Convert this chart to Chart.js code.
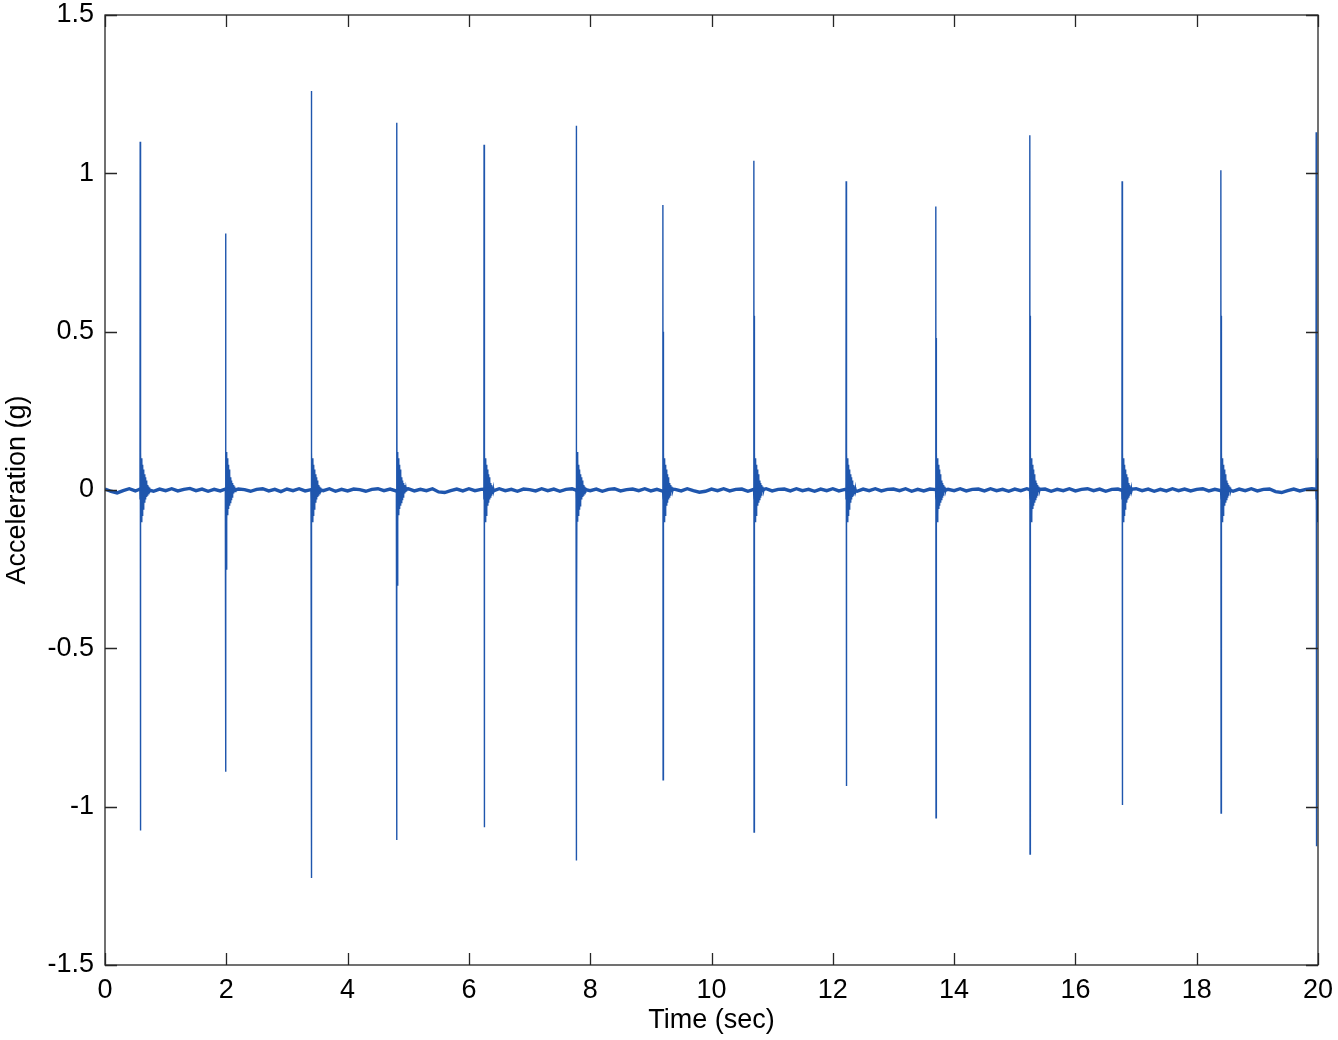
<!DOCTYPE html>
<html>
<head>
<meta charset="utf-8">
<title>Acceleration</title>
<script src="https://cdn.jsdelivr.net/npm/chart.js@4/dist/chart.umd.min.js"></script>
<style>
  html, body { margin: 0; padding: 0; background: #fff; }
  #wrap { width: 1338px; height: 1040px; }
</style>
</head>
<body>
<div id="wrap"><canvas id="accChart" width="1338" height="1040"></canvas></div>
<script>
// tick labels
const xTickLabels = ['0', '2', '4', '6', '8', '10', '12', '14', '16', '18', '20'];
const yTickLabels = ['-1.5', '-1', '-0.5', '0', '0.5', '1', '1.5'];

// impacts (sec, g)
const spikeTimes = [0.58, 1.99, 3.40, 4.81, 6.25, 7.77, 9.20, 10.70, 12.22, 13.70, 15.25, 16.77, 18.40, 19.97];
const spikePeaks = [1.10, 0.81, 1.26, 1.16, 1.09, 1.15, 0.90, 1.04, 0.975, 0.895, 1.12, 0.975, 1.01, 1.13];
const spikeTroughs = [-1.075, -0.89, -1.225, -1.105, -1.065, -1.17, -0.915, -1.08, -0.935, -1.035, -1.15, -0.995, -1.02, -1.125];
const secondPeaks = [0.55, 0.12, 0.45, 0.60, 0.55, 0.60, 0.50, 0.55, 0.50, 0.48, 0.55, 0.75, 0.55, 0.12];
const secondTroughs = [-0.35, -0.25, -0.36, -0.30, -0.30, -0.50, -0.28, -0.30, -0.30, -0.30, -0.30, -0.60, -0.33, -0.30];

// ringing after each impact (g), one sample every 7 ms
const ringing = [0.12, -0.10, 0.10, -0.08, 0.08, -0.06, 0.065, -0.05, 0.05, -0.04,
                 0.04, -0.03, 0.03, -0.022, 0.022, -0.016, 0.016, -0.011, 0.011, -0.007,
                 0.008, -0.005];

// baseline between impacts (g), one sample every 0.1 s
const baseline = [
  0.003, -0.004, -0.009, -0.002, 0.004, -0.003, 0.005, 0.001, -0.004, 0.003,
  -0.002, 0.004, -0.003, 0.002, 0.005, -0.002, 0.003, -0.004, 0.002, -0.003,
  0.004, -0.002, 0.003, 0.001, -0.004, 0.002, 0.004, -0.003, 0.002, -0.005,
  0.003, -0.002, 0.004, -0.003, 0.001, 0.003, -0.002, 0.004, -0.004, 0.002,
  -0.003, 0.003, 0.001, -0.004, 0.002, 0.004, -0.002, 0.003, -0.003, 0.002,
  0.004, -0.003, 0.002, -0.002, 0.004, -0.006, -0.008, -0.002, 0.003, -0.003,
  0.004, -0.002, 0.002, 0.003, -0.003, 0.004, -0.002, 0.002, -0.004, 0.003,
  0.001, -0.003, 0.004, -0.002, 0.003, -0.004, 0.002, 0.004, -0.003, 0.002,
  -0.002, 0.003, -0.004, 0.002, 0.004, -0.003, 0.001, 0.003, -0.002, 0.004,
  -0.003, 0.002, -0.004, 0.003, 0.002, -0.003, 0.004, -0.002, -0.007, -0.004,
  0.003, -0.002, 0.004, -0.003, 0.002, 0.003, -0.004, 0.002, -0.002, 0.004,
  -0.003, 0.002, 0.003, -0.003, 0.004, -0.002, 0.002, -0.004, 0.003, -0.002,
  0.004, -0.003, 0.002, 0.001, -0.004, 0.003, -0.002, 0.004, -0.003, 0.002,
  0.003, -0.002, 0.004, -0.004, 0.002, -0.003, 0.003, 0.001, -0.004, 0.002,
  -0.002, 0.004, -0.003, 0.002, 0.003, -0.003, 0.004, -0.002, 0.002, -0.004,
  0.003, -0.002, 0.004, -0.003, 0.002, 0.003, -0.004, 0.002, -0.002, 0.004,
  -0.003, 0.002, 0.004, -0.002, 0.003, -0.004, 0.002, 0.003, -0.003, 0.002,
  0.004, -0.002, 0.003, -0.004, 0.002, -0.003, 0.004, -0.002, 0.003, -0.003,
  0.002, 0.004, -0.003, 0.002, -0.002, 0.003, -0.004, 0.003, -0.002, 0.004,
  -0.003, 0.002, 0.003, -0.005, -0.008, -0.002, 0.003, -0.003, 0.002, 0.004,
  0.002
];

const lineColor = '#1f56ad';
const fontFamily = '"Liberation Sans", Arial, sans-serif';
const fontSize = 27;

function buildBaseline() {
    return baseline.map((v, i) => ({ x: i * 0.1, y: v }));
}

function buildSpikes() {
    const pts = [];
    spikeTimes.forEach((t, i) => {
        pts.push({ x: t - 0.006, y: 0 });
        pts.push({ x: t - 0.003, y: -0.03 });
        pts.push({ x: t, y: spikePeaks[i] });
        pts.push({ x: t + 0.002, y: spikeTroughs[i] });
        pts.push({ x: t + 0.004, y: secondPeaks[i] });
        pts.push({ x: t + 0.006, y: secondTroughs[i] });
        ringing.forEach((v, k) => {
            pts.push({ x: t + 0.006 + 0.007 * (k + 1), y: v });
        });
        pts.push({ x: t + 0.006 + 0.007 * (ringing.length + 1), y: 0 });
        pts.push({ x: t + 0.006 + 0.007 * (ringing.length + 2), y: null });
    });
    return pts;
}

// box around the plot and inward ticks on all four sides
const boxPlugin = {
    id: 'box',
    afterDatasetsDraw(chart) {
        const { ctx, chartArea: a, scales } = chart;
        const len = 12;
        ctx.save();
        ctx.strokeStyle = '#262626';
        ctx.lineWidth = 1.3;
        ctx.strokeRect(a.left, a.top, a.right - a.left, a.bottom - a.top);
        ctx.beginPath();
        xTickLabels.forEach(l => {
            const px = Math.round(scales.x.getPixelForValue(parseFloat(l))) + 0.5;
            ctx.moveTo(px, a.bottom); ctx.lineTo(px, a.bottom - len);
            ctx.moveTo(px, a.top); ctx.lineTo(px, a.top + len);
        });
        yTickLabels.forEach(l => {
            const py = Math.round(scales.y.getPixelForValue(parseFloat(l))) + 0.5;
            ctx.moveTo(a.left, py); ctx.lineTo(a.left + len, py);
            ctx.moveTo(a.right, py); ctx.lineTo(a.right - len, py);
        });
        ctx.stroke();
        ctx.restore();
    }
};

const chart = new Chart(document.getElementById('accChart'), {
    type: 'line',
    data: {
        datasets: [{
            data: buildBaseline(),
            borderColor: lineColor,
            borderWidth: 3.4,
            pointRadius: 0,
            tension: 0
        }, {
            data: buildSpikes(),
            borderColor: lineColor,
            borderWidth: 1.4,
            pointRadius: 0,
            tension: 0,
            spanGaps: false
        }]
    },
    options: {
        responsive: false,
        animation: false,
        devicePixelRatio: 1,
        layout: { padding: { left: 0, right: 20, top: 15, bottom: 0 } },
        plugins: {
            legend: { display: false },
            tooltip: { enabled: false }
        },
        scales: {
            x: {
                type: 'linear',
                min: 0,
                max: 20,
                afterFit: s => { s.height = 75; s.paddingLeft = 0; s.paddingRight = 0; },
                grid: { display: false, drawTicks: false },
                border: { display: false },
                ticks: {
                    stepSize: 2,
                    padding: 9,
                    color: '#000',
                    font: { family: fontFamily, size: fontSize },
                    maxRotation: 0,
                    callback: v => xTickLabels[Math.round(v / 2)]
                },
                title: {
                    display: true,
                    text: 'Time (sec)',
                    color: '#000',
                    font: { family: fontFamily, size: fontSize },
                    padding: { top: 0, bottom: 3 }
                }
            },
            y: {
                type: 'linear',
                min: -1.5,
                max: 1.5,
                afterFit: s => { s.width = 105; s.paddingTop = 0; s.paddingBottom = 0; },
                grid: { display: false, drawTicks: false },
                border: { display: false },
                ticks: {
                    stepSize: 0.5,
                    padding: 11,
                    color: '#000',
                    font: { family: fontFamily, size: fontSize },
                    callback: v => yTickLabels[Math.round((v + 1.5) / 0.5)]
                },
                title: {
                    display: true,
                    text: 'Acceleration (g)',
                    color: '#000',
                    font: { family: fontFamily, size: fontSize },
                    padding: { top: 1, bottom: 1 }
                }
            }
        }
    },
    plugins: [boxPlugin]
});
</script>
</body>
</html>
